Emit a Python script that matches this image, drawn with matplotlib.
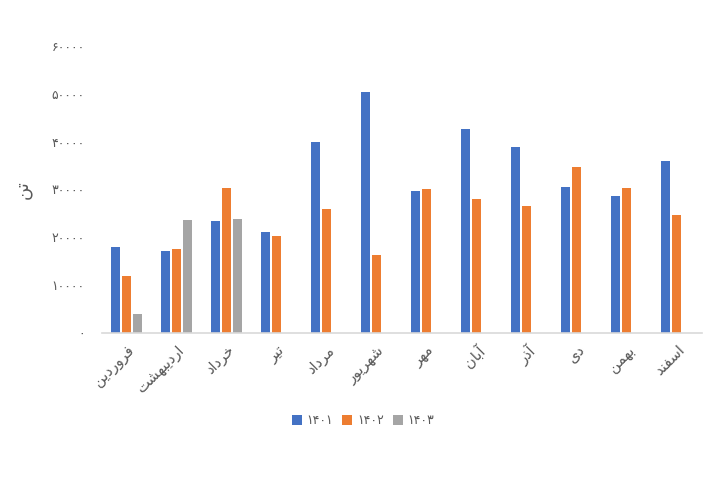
import matplotlib
matplotlib.use("Agg")
import numpy as np
import matplotlib.pyplot as plt
from matplotlib.patches import Patch

months = ["فروردین", "اردیبهشت", "خرداد", "تیر", "مرداد", "شهریور",
          "مهر", "آبان", "آذر", "دی", "بهمن", "اسفند"]
y1401 = [18000, 17100, 23400, 21200, 40000, 50400, 29600, 42600, 38800, 30500, 28700, 35900]
y1402 = [11900, 17500, 30300, 20200, 25900, 16400, 30000, 28000, 26600, 34800, 30300, 24700]
y1403 = [4000, 23700, 23800, np.nan, np.nan, np.nan, np.nan, np.nan, np.nan, np.nan, np.nan, np.nan]
series_names = ["۱۴۰۱", "۱۴۰۲", "۱۴۰۳"]
yticks = [0, 10000, 20000, 30000, 40000, 50000, 60000]
ylabel = "تن"

COLORS = ["#4472C4", "#ED7D31", "#A5A5A5"]
TEXT = "#595959"

# minimal Persian shaping (matplotlib has no Arabic shaping / bidi)
FORMS = {  # isolated, final, initial, medial
    "ا": ("\uFE8D", "\uFE8E", None, None),
    "آ": ("\uFE81", "\uFE82", None, None),
    "ب": ("\uFE8F", "\uFE90", "\uFE91", "\uFE92"),
    "ت": ("\uFE95", "\uFE96", "\uFE97", "\uFE98"),
    "خ": ("\uFEA5", "\uFEA6", "\uFEA7", "\uFEA8"),
    "د": ("\uFEA9", "\uFEAA", None, None),
    "ذ": ("\uFEAB", "\uFEAC", None, None),
    "ر": ("\uFEAD", "\uFEAE", None, None),
    "س": ("\uFEB1", "\uFEB2", "\uFEB3", "\uFEB4"),
    "ش": ("\uFEB5", "\uFEB6", "\uFEB7", "\uFEB8"),
    "ف": ("\uFED1", "\uFED2", "\uFED3", "\uFED4"),
    "م": ("\uFEE1", "\uFEE2", "\uFEE3", "\uFEE4"),
    "ن": ("\uFEE5", "\uFEE6", "\uFEE7", "\uFEE8"),
    "ه": ("\uFEE9", "\uFEEA", "\uFEEB", "\uFEEC"),
    "و": ("\uFEED", "\uFEEE", None, None),
    "ی": ("\uFBFC", "\uFBFD", "\uFBFE", "\uFBFF"),
}


def fa(word):
    out = []
    for i, ch in enumerate(word):
        if ch not in FORMS:
            out.append(ch)
            continue
        prev = word[i - 1] if i > 0 else None
        nxt = word[i + 1] if i + 1 < len(word) else None
        joins_prev = prev in FORMS and FORMS[prev][2] is not None
        joins_next = FORMS[ch][2] is not None and nxt in FORMS
        iso, fin, ini, med = FORMS[ch]
        if joins_prev and joins_next:
            out.append(med)
        elif joins_prev:
            out.append(fin)
        elif joins_next:
            out.append(ini)
        else:
            out.append(iso)
    return "".join(reversed(out))


def fa_digits(n):
    return str(n).translate(str.maketrans("0123456789", "۰۱۲۳۴۵۶۷۸۹"))


plt.rcParams["font.family"] = ["DejaVu Sans"]

fig = plt.figure(figsize=(7.2, 4.8), dpi=100)
ax = fig.add_axes([101.5 / 720, 1 - 333 / 480, 600 / 720, 287 / 480])

x = np.arange(len(months))
w, step = 0.18, 0.22
for k, (vals, c) in enumerate(zip([y1401, y1402, y1403], COLORS)):
    ax.bar(x + (k - 1) * step, vals, width=w, color=c, zorder=2)

ax.set_xlim(-0.5, len(months) - 0.5)
ax.set_ylim(0, 60000)
ax.set_yticks(yticks)
ax.set_yticklabels([fa_digits(v) for v in yticks], color=TEXT, fontsize=9)
ax.set_xticks(x)
ax.set_xticklabels([fa(m) for m in months], rotation=45, ha="right",
                   va="top", rotation_mode="anchor", color=TEXT, fontsize=10.5)
ax.tick_params(axis="both", length=0)
ax.tick_params(axis="y", pad=12)
ax.tick_params(axis="x", pad=7)
for s in ["top", "right", "left"]:
    ax.spines[s].set_visible(False)
ax.spines["bottom"].set_color("#D9D9D9")
ax.spines["bottom"].set_linewidth(1.2)

ax.set_ylabel(fa(ylabel), color=TEXT, fontsize=13, labelpad=14)

handles = [Patch(facecolor=c, edgecolor="none") for c in COLORS]
fig.legend(handles, series_names, loc="center", bbox_to_anchor=(363 / 720, 1 - 421 / 480),
           ncol=3, frameon=False, fontsize=9, handlelength=0.8, handleheight=0.8,
           columnspacing=0.7, handletextpad=0.4, labelcolor=TEXT)

fig.savefig("out.png", dpi=100, facecolor="white")
